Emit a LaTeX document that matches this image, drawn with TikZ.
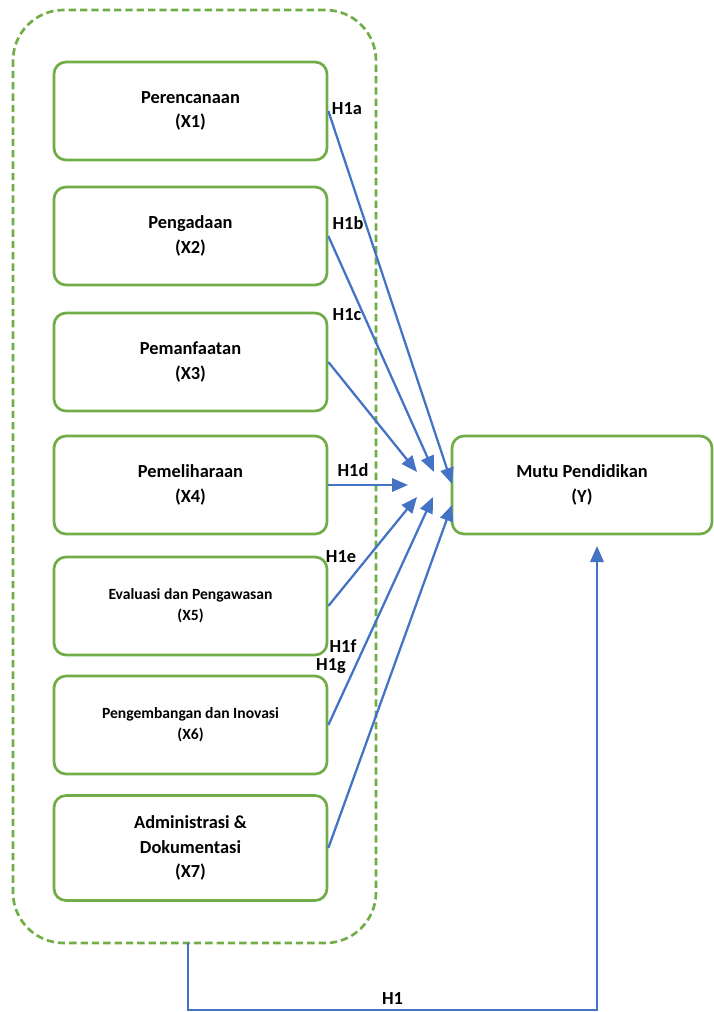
\documentclass[tikz,border=0pt]{standalone}
\usepackage{fontspec}
\setmainfont{Carlito}
\usetikzlibrary{arrows.meta}
\definecolor{BoxGreen}{RGB}{112,173,71}
\definecolor{LinkBlue}{RGB}{68,114,196}

\begin{document}
\begin{tikzpicture}[
                    x=0.75pt, y=-0.75pt,
                    font=\fontsize{13.8}{18.5}\selectfont\bfseries,
                    varbox/.style={draw=BoxGreen, line width=2pt, rounded corners=9pt,
                                   minimum width=204.75pt, minimum height=73.5pt,
                                   align=center, inner sep=2pt},
                    smalltext/.style={font=\fontsize{11.7}{16}\selectfont\bfseries},
                    hyplink/.style={draw=LinkBlue, line width=1.7pt,
                                    -{Triangle[length=12pt,width=10pt]}},
                    hyplbl/.style={inner sep=1pt},
                ]
                  \useasboundingbox (0,0) rectangle (713,1012);

                  % Dashed group round the seven variables
                  \node[draw=BoxGreen, line width=2pt, dash pattern=on 5.5pt off 3pt,
                        rounded corners=38pt, minimum width=272.25pt,
                        minimum height=699.75pt] (grp) at (194.5,476.5) {};

                  % ---- Independent variables ----
                  \node[varbox] (x1) at (190.5,111) {Perencanaan\\(X1)};
                  \node[varbox] (x2) at (190.5,236) {Pengadaan\\(X2)};
                  \node[varbox] (x3) at (190.5,362) {Pemanfaatan\\(X3)};
                  \node[varbox] (x4) at (190.5,485) {Pemeliharaan\\(X4)};
                  \node[varbox, smalltext] (x5) at (190.5,606) {Evaluasi dan Pengawasan\\(X5)};
                  \node[varbox, smalltext] (x6) at (190.5,725) {Pengembangan dan Inovasi\\(X6)};
                  \node[varbox, minimum height=78.75pt] (x7) at (190.5,848) {Administrasi \&\\Dokumentasi\\(X7)};

                  % ---- Dependent variable ----
                  \node[varbox, minimum width=195pt] (y) at (582,485) {Mutu Pendidikan\\(Y)};

                  % Arrow ends in front of Y
                  \coordinate (e1) at (452,484);
                  \coordinate (e2) at (434,472);
                  \coordinate (e3) at (417,472);
                  \coordinate (e4) at (408,485);
                  \coordinate (e5) at (417,497);
                  \coordinate (e6) at (433,497);
                  \coordinate (e7) at (452,505);

                  % Partial hypotheses
                  \draw[hyplink] (x1.east) -- (e1);
                  \draw[hyplink] (x2.east) -- (e2);
                  \draw[hyplink] (x3.east) -- (e3);
                  \draw[hyplink] (x4.east) -- (e4);
                  \draw[hyplink] (x5.east) -- (e5);
                  \draw[hyplink] (x6.east) -- (e6);
                  \draw[hyplink] (x7.east) -- (e7);

                  \node[hyplbl] (h1a) at (347,109) {H1a};
                  \node[hyplbl] (h1b) at (348,223) {H1b};
                  \node[hyplbl] (h1c) at (347,315) {H1c};
                  \node[hyplbl] (h1d) at (353,470) {H1d};
                  \node[hyplbl] (h1e) at (341,557) {H1e};
                  \node[hyplbl] (h1f) at (343,646) {H1f};
                  \node[hyplbl] (h1g) at (331,666) {H1g};

                  % Simultaneous hypothesis
                  \coordinate (h1out) at (188,943);
                  \coordinate (h1in) at (597,546);
                  \draw[hyplink] (h1out) -- ++(0,67) -| node[pos=0.25, above] (h1) {H1} (h1in);
                \end{tikzpicture}
\end{document}
